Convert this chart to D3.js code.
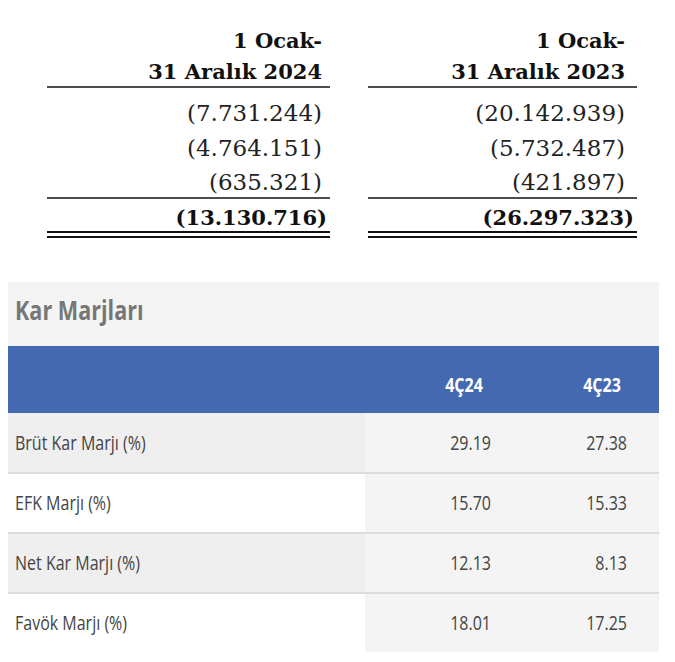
<!DOCTYPE html><html><head><meta charset="utf-8"><script src="https://cdn.jsdelivr.net/npm/d3@7"></script>
<style>body{margin:0;background:#fff}</style></head><body><svg id="c" width="675" height="662"></svg>
<script>
const headers1 = ["1 Ocak-", "31 Aralık 2024"];
const headers2 = ["1 Ocak-", "31 Aralık 2023"];
const col2024 = ["(7.731.244)", "(4.764.151)", "(635.321)"];
const col2023 = ["(20.142.939)", "(5.732.487)", "(421.897)"];
const total2024 = "(13.130.716)";
const total2023 = "(26.297.323)";
const title = "Kar Marjları";
const periods = ["4Ç24", "4Ç23"];
const rowLabels = ["Brüt Kar Marjı (%)", "EFK Marjı (%)", "Net Kar Marjı (%)", "Favök Marjı (%)"];
const v4C24 = [29.19, 15.70, 12.13, 18.01];
const v4C23 = [27.38, 15.33, 8.13, 17.25];

const svg = d3.select("#c");
const serif = "'DejaVu Serif',serif";
const cols = [{x0:47,x1:330,tx:322,h:headers1,v:col2024,t:total2024},{x0:368,x1:637,tx:625,h:headers2,v:col2023,t:total2023}];
const yTop = d3.scalePoint().domain(d3.range(3)).range([113,182]);
cols.forEach(c=>{
  c.h.forEach((s,i)=>svg.append("text").attr("x",c.tx).attr("y",48+i*31).attr("text-anchor","end")
    .attr("font-family",serif).attr("font-weight","bold").attr("font-size",21).attr("fill","#111").text(s));
  svg.append("line").attr("x1",c.x0).attr("x2",c.x1).attr("y1",87).attr("y2",87).attr("stroke","#111").attr("stroke-width",1.5);
  c.v.forEach((s,i)=>svg.append("text").attr("x",c.tx).attr("y",yTop(i)+8).attr("text-anchor","end")
    .attr("font-family",serif).attr("font-size",23).attr("fill","#222").text(s));
  svg.append("line").attr("x1",c.x0).attr("x2",c.x1).attr("y1",198).attr("y2",198).attr("stroke","#111").attr("stroke-width",1.5);
  svg.append("text").attr("x",c.x1-3).attr("y",225).attr("text-anchor","end").attr("font-family",serif)
    .attr("font-weight","bold").attr("font-size",21).attr("fill","#111").text(c.t);
  [232,237].forEach(y=>svg.append("line").attr("x1",c.x0).attr("x2",c.x1).attr("y1",y).attr("y2",y).attr("stroke","#111").attr("stroke-width",2));
});

const sans = "'Open Sans','Noto Sans',sans-serif";
svg.append("rect").attr("x",8).attr("y",282).attr("width",651).attr("height",370).attr("fill","#f4f4f4");
function condText(x,y,anchor,size,weight,fill,s){
  svg.append("text").attr("transform",`translate(${x},${y}) scale(0.8,1)`).attr("text-anchor",anchor)
    .attr("font-family",sans).attr("font-size",size).attr("font-weight",weight).attr("fill",fill).text(s);
}
condText(15,320,"start",27,"bold","#777",title);
svg.append("rect").attr("x",8).attr("y",346).attr("width",651).attr("height",67).attr("fill","#4569b0");
const xc = d3.scaleOrdinal().domain(periods).range([464,602]);
periods.forEach(p=>condText(xc(p),392,"middle",20,"bold","#fff",p));
const y = d3.scaleBand().domain(rowLabels).range([413,653]);
rowLabels.forEach((l,i)=>{
  svg.append("rect").attr("x",8).attr("y",y(l)).attr("width",357).attr("height",y.bandwidth()).attr("fill",i%2?"#ffffff":"#efefef");
  if(i>0) svg.append("line").attr("x1",8).attr("x2",659).attr("y1",y(l)).attr("y2",y(l)).attr("stroke","#dcdcdc").attr("stroke-width",2);
  const cy=y(l)+y.bandwidth()/2+7;
  condText(15,cy,"start",20,"normal","#444",l);
  condText(491,cy,"end",20,"normal","#444",v4C24[i].toFixed(2));
  condText(627,cy,"end",20,"normal","#444",v4C23[i].toFixed(2));
});
</script></body></html>
